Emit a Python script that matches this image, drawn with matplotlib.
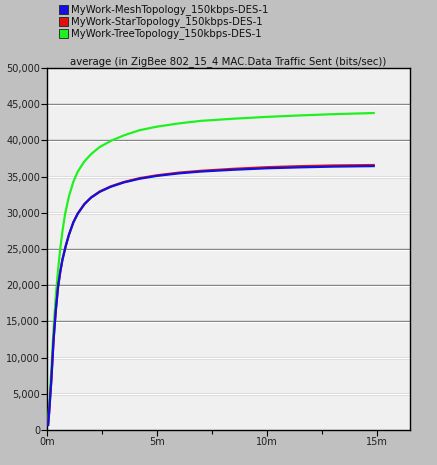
import matplotlib.pyplot as plt
from matplotlib.patches import Rectangle
from matplotlib.ticker import FixedLocator, FuncFormatter

## data ##
series_names = ["MyWork-MeshTopology_150kbps-DES-1",
                "MyWork-StarTopology_150kbps-DES-1",
                "MyWork-TreeTopology_150kbps-DES-1"]
series_colors = ["#1010e0", "#e01010", "#20f020"]

# time in minutes
mesh_t = [0.05, 0.1, 0.15, 0.2, 0.25, 0.3, 0.4, 0.5, 0.6, 0.7, 0.85, 1.0, 1.2, 1.4, 1.7,
          2.0, 2.4, 2.9, 3.5, 4.2, 5.0, 6.0, 7.0, 8.5, 10.0, 11.5, 13.0, 14.85]
mesh_v = [700, 2500, 4800, 7000, 9800, 12500, 16500, 19700, 21800, 23500, 25400, 27000, 28700,
          29900, 31200, 32100, 32900, 33600, 34200, 34700, 35100, 35450, 35700, 35950, 36150,
          36280, 36380, 36450]

star_t = [0.05, 0.1, 0.15, 0.2, 0.25, 0.3, 0.4, 0.5, 0.6, 0.7, 0.85, 1.0, 1.2, 1.4, 1.7,
          2.0, 2.4, 2.9, 3.5, 4.2, 5.0, 6.0, 7.0, 8.5, 10.0, 11.5, 13.0, 14.85]
star_v = [700, 2500, 4800, 7000, 9800, 12500, 16500, 19700, 21800, 23500, 25400, 27000, 28700,
          29900, 31200, 32100, 32950, 33650, 34260, 34780, 35180, 35550, 35800, 36080, 36300,
          36440, 36540, 36600]

tree_t = [0.05, 0.1, 0.15, 0.2, 0.25, 0.3, 0.4, 0.5, 0.6, 0.7, 0.82, 1.0, 1.2, 1.4, 1.7,
          2.0, 2.4, 2.95, 3.5, 4.2, 5.0, 6.0, 7.0, 8.5, 10.0, 11.5, 13.0, 14.85]
tree_v = [700, 3500, 6000, 8500, 11300, 14000, 18500, 22000, 25000, 27400, 29800, 32300, 34300,
          35700, 37100, 38100, 39100, 40000, 40700, 41400, 41900, 42350, 42700, 43000, 43250,
          43450, 43620, 43780]

x_major = [0, 5, 10, 15]
x_minor = [2.5, 7.5, 12.5]
y_ticks = list(range(0, 50001, 5000))


def main():
    fig = plt.figure(figsize=(4.37, 4.65), dpi=100, facecolor="#c0c0c0")
    ax = fig.add_axes([47 / 437, 35 / 465, 363 / 437, 362 / 465])
    ax.set_facecolor("#f0f0f0")

    # grid lines every 5000
    for y in y_ticks[1:-1]:
        ax.axhline(y, color="#808080", lw=1.0, zorder=1)
        ax.axhline(y - 90, color="#ffffff", lw=0.8, zorder=1)

    # plot the three series (red under blue like the original)
    ax.plot(tree_t, tree_v, color=series_colors[2], lw=1.6, zorder=3)
    ax.plot(star_t, star_v, color=series_colors[1], lw=1.6, zorder=3)
    ax.plot(mesh_t, mesh_v, color=series_colors[0], lw=1.6, zorder=4)

    ax.set_xlim(0, 16.5)
    ax.set_ylim(0, 50000)

    ax.xaxis.set_major_locator(FixedLocator(x_major))
    ax.xaxis.set_minor_locator(FixedLocator(x_minor))
    ax.xaxis.set_major_formatter(FuncFormatter(lambda v, p: "%dm" % v))
    ax.yaxis.set_major_locator(FixedLocator(y_ticks))
    ax.yaxis.set_major_formatter(FuncFormatter(lambda v, p: "{:,}".format(int(v))))

    ax.tick_params(axis="both", which="both", direction="out", length=4, width=0.8,
                   colors="#000000", labelsize=7, labelcolor="#202020", pad=1)
    ax.tick_params(axis="x", which="minor", length=3)
    for sp in ax.spines.values():
        sp.set_color("black")
        sp.set_linewidth(1.0)

    ax.set_title("average (in ZigBee 802_15_4 MAC.Data Traffic Sent (bits/sec))",
                 fontsize=7.3, color="#101010", pad=3)

    # legend at the top left as in the original
    for i, (name, col) in enumerate(zip(series_names, series_colors)):
        ytop = 5 + i * 12
        fig.add_artist(Rectangle((59 / 437, 1 - (ytop + 9) / 465), 9 / 437, 9 / 465,
                                 transform=fig.transFigure, facecolor=col,
                                 edgecolor="#202020", lw=0.6))
        fig.text(71 / 437, 1 - (ytop + 4.5) / 465, name, fontsize=7.3,
                 color="#101010", va="center", ha="left")

    fig.savefig("out.png", dpi=100, facecolor=fig.get_facecolor())


if __name__ == "__main__":
    main()
